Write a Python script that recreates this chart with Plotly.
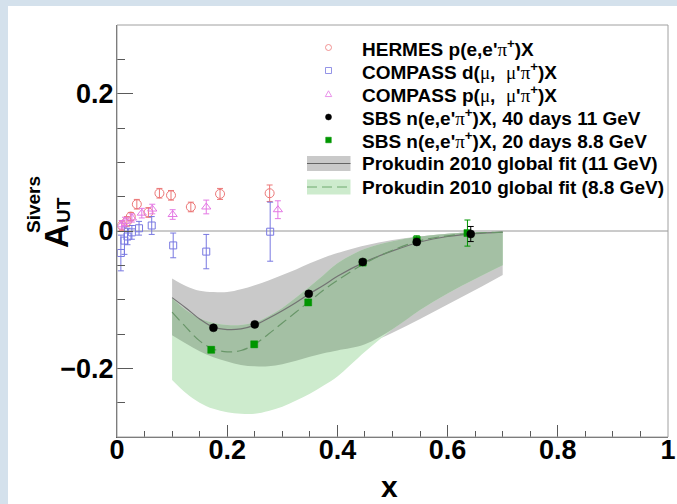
import numpy as np
import plotly.graph_objects as go

# ---------------- data ----------------
hermes_x = [0.009, 0.018, 0.025, 0.036, 0.057, 0.077, 0.098, 0.134, 0.187, 0.277]
hermes_y = [0.008, 0.014, 0.021, 0.039, 0.027, 0.055, 0.052, 0.035, 0.054, 0.055]
hermes_e = [0.007, 0.007, 0.006, 0.007, 0.007, 0.007, 0.007, 0.007, 0.008, 0.012]

compd_x = [0.007, 0.0135, 0.019, 0.027, 0.040, 0.063, 0.102, 0.162, 0.278]
compd_y = [-0.032, -0.014, -0.008, -0.002, 0.004, 0.008, -0.021, -0.030, -0.001]
compd_e = [0.026, 0.020, 0.012, 0.010, 0.010, 0.013, 0.018, 0.025, 0.043]

compp_x = [0.0085, 0.0145, 0.027, 0.045, 0.064, 0.101, 0.162, 0.292]
compp_y = [0.009, 0.014, 0.019, 0.026, 0.032, 0.024, 0.035, 0.031]
compp_e = [0.006, 0.006, 0.006, 0.007, 0.007, 0.007, 0.010, 0.013]

sbs11_x = [0.175, 0.250, 0.348, 0.446, 0.544, 0.642]
sbs11_y = [-0.141, -0.136, -0.0915, -0.045, -0.016, -0.0044]
sbs11_e = [0.003, 0.003, 0.003, 0.003, 0.004, 0.011]

sbs88_x = [0.171, 0.249, 0.347, 0.446, 0.544, 0.636]
sbs88_y = [-0.173, -0.165, -0.104, -0.046, -0.013, -0.003]
sbs88_e = [0.004, 0.004, 0.004, 0.004, 0.006, 0.019]

fit_x = [0.10, 0.125, 0.15, 0.175, 0.20, 0.225, 0.25, 0.275, 0.30, 0.325, 0.35,
         0.375, 0.40, 0.45, 0.50, 0.55, 0.60, 0.65, 0.70]
fit11_c = [-0.097, -0.112, -0.128, -0.140, -0.1435, -0.1425, -0.137, -0.127, -0.116, -0.104, -0.091,
           -0.079, -0.066, -0.045, -0.029, -0.016, -0.008, -0.0038, -0.0015]
fit11_up = [-0.069, -0.080, -0.087, -0.089, -0.089, -0.085, -0.079, -0.072, -0.064, -0.056, -0.047,
            -0.039, -0.032, -0.021, -0.013, -0.008, -0.004, -0.002, -0.001]
fit11_lo = [-0.152, -0.164, -0.175, -0.184, -0.190, -0.195, -0.197, -0.197, -0.194, -0.189, -0.183,
            -0.178, -0.174, -0.165, -0.148, -0.128, -0.107, -0.086, -0.064]
fit88_c = [-0.118, -0.140, -0.160, -0.172, -0.176, -0.174, -0.165, -0.150, -0.134, -0.118, -0.102,
           -0.086, -0.072, -0.047, -0.028, -0.014, -0.007, -0.003, -0.0015]
fit88_up = [-0.098, -0.115, -0.127, -0.134, -0.137, -0.137, -0.133, -0.124, -0.112, -0.097, -0.081,
            -0.064, -0.047, -0.026, -0.015, -0.008, -0.004, -0.002, -0.001]
fit88_lo = [-0.217, -0.236, -0.250, -0.259, -0.264, -0.266, -0.266, -0.262, -0.256, -0.247, -0.237,
            -0.225, -0.212, -0.176, -0.143, -0.115, -0.091, -0.070, -0.050]

x_ticks = [0, 0.2, 0.4, 0.6, 0.8, 1]
y_ticks = [-0.2, 0, 0.2]

SYM = "<span style=\"font-family:'Liberation Serif';font-weight:normal\">{}</span>"
PI, MU = SYM.format("π"), SYM.format("μ")
legend_labels = [
    f"HERMES p(e,e'{PI}<sup>+</sup>)X",
    f"COMPASS d({MU},\u00a0 {MU}'{PI}<sup>+</sup>)X",
    f"COMPASS p({MU},\u00a0 {MU}'{PI}<sup>+</sup>)X",
    f"SBS n(e,e'{PI}<sup>+</sup>)X, 40 days 11 GeV",
    f"SBS n(e,e'{PI}<sup>+</sup>)X, 20 days 8.8 GeV",
    "Prokudin 2010 global fit (11 GeV)",
    "Prokudin 2010 global fit (8.8 GeV)",
]

# ---------------- layout geometry ----------------
W, H = 677, 504
L, R, T, B = 117, 9, 25, 67
PW, PH = W - L - R, H - T - B


def px(xp):
    return (xp - L) / PW


def py(yp):
    return (H - B - yp) / PH


C_HER = "rgb(236,120,120)"
C_CD = "rgb(120,120,225)"
C_CP = "rgb(228,120,228)"
C_GRAYBAND = "rgb(201,201,201)"
C_GREENBAND = "rgb(205,235,205)"
C_OVER = "rgb(164,192,164)"
C_LINE11 = "rgb(115,115,115)"
C_LINE88 = "rgb(105,150,105)"
C_SBS88 = "rgb(0,150,0)"

fig = go.Figure()

# bands
fx = np.array(fit_x)
g_up, g_lo = np.array(fit11_up), np.array(fit11_lo)
n_up, n_lo = np.array(fit88_up), np.array(fit88_lo)
o_up, o_lo = np.minimum(g_up, n_up), np.maximum(g_lo, n_lo)

for up, lo, col in [(g_up, g_lo, C_GRAYBAND), (n_up, n_lo, C_GREENBAND), (o_up, o_lo, C_OVER)]:
    fig.add_trace(go.Scatter(x=fx, y=up, mode="lines", line=dict(width=0, shape="spline"),
                             hoverinfo="skip", showlegend=False))
    fig.add_trace(go.Scatter(x=fx, y=lo, mode="lines", line=dict(width=0, shape="spline"),
                             fill="tonexty", fillcolor=col, hoverinfo="skip", showlegend=False))

fig.add_trace(go.Scatter(x=fit_x, y=fit11_c, mode="lines",
                         line=dict(color=C_LINE11, width=1.2, shape="spline"), showlegend=False))
fig.add_trace(go.Scatter(x=fit_x, y=fit88_c, mode="lines",
                         line=dict(color=C_LINE88, width=1.2, shape="spline", dash="11px,5px"),
                         showlegend=False))


def pts(x, y, e, sym, col, size, lw=1.0, cap=3):
    return go.Scatter(x=x, y=y, mode="markers",
                      marker=dict(symbol=sym, color=col, size=size, line=dict(color=col, width=lw)),
                      error_y=dict(type="data", array=e, color=col, thickness=1, width=cap),
                      showlegend=False)


fig.add_trace(pts(hermes_x, hermes_y, hermes_e, "circle-open", C_HER, 9))
fig.add_trace(pts(compd_x, compd_y, compd_e, "square-open", C_CD, 7))
fig.add_trace(pts(compp_x, compp_y, compp_e, "triangle-up-open", C_CP, 8))
fig.add_trace(pts(sbs88_x, sbs88_y, sbs88_e, "square", C_SBS88, 7, 0.5))
fig.add_trace(pts(sbs11_x, sbs11_y, sbs11_e, "circle", "black", 8, 0.5))

shapes = []
# slide background strips
BG = "rgb(212,225,236)"
shapes.append(dict(type="rect", xref="paper", yref="paper", x0=px(0), x1=px(8), y0=py(H), y1=py(0),
                   fillcolor=BG, line=dict(width=0), layer="below"))
shapes.append(dict(type="rect", xref="paper", yref="paper", x0=px(0), x1=px(W), y0=py(6), y1=py(0),
                   fillcolor=BG, line=dict(width=0), layer="below"))
# zero line
shapes.append(dict(type="line", xref="x", yref="y", x0=0, x1=1, y0=0, y1=0,
                   line=dict(color="rgb(150,150,150)", width=1), layer="below"))
# frame
shapes.append(dict(type="rect", xref="paper", yref="paper", x0=0, x1=1, y0=0, y1=1,
                   line=dict(color="rgb(160,160,160)", width=1), layer="above"))

# legend
rows = [47.5, 70.5, 94, 117, 140, 163.5, 187]
mx = 328.5
annotations = []


def pshape(kind, cx, cy, r, fill, line, lw=1.0):
    base = dict(xref="paper", yref="paper", xsizemode="pixel", ysizemode="pixel",
                xanchor=px(cx), yanchor=py(cy), fillcolor=fill, line=dict(color=line, width=lw))
    if kind == "circle":
        base.update(type="circle", x0=-r, x1=r, y0=-r, y1=r)
    elif kind == "square":
        base.update(type="path", path=f"M{-r},{-r} L{r},{-r} L{r},{r} L{-r},{r} Z")
    elif kind == "triangle":
        base.update(type="path", path=f"M{-r},{-r*0.8} L{r},{-r*0.8} L0,{r*1.0} Z")
    return base


shapes.append(pshape("circle", mx, rows[0], 3, "rgba(255,255,255,0)", C_HER, 0.8))
shapes.append(pshape("square", mx, rows[1], 3, "rgba(255,255,255,0)", C_CD, 0.8))
shapes.append(pshape("triangle", mx, rows[2], 3.2, "rgba(255,255,255,0)", C_CP, 0.8))
shapes.append(pshape("circle", mx, rows[3], 3, "black", "black", 0.5))
shapes.append(pshape("square", mx, rows[4], 2.8, C_SBS88, C_SBS88, 0.5))
for r_i, fillc, linec, dash in [(5, C_GRAYBAND, "rgb(100,100,100)", "solid"),
                                 (6, C_GREENBAND, "rgb(110,170,110)", "10px,5px")]:
    cy = rows[r_i]
    shapes.append(dict(type="rect", xref="paper", yref="paper", x0=px(307), x1=px(350.5),
                       y0=py(cy + 7.5), y1=py(cy - 7.5), fillcolor=fillc, line=dict(width=0)))
    shapes.append(dict(type="line", xref="paper", yref="paper", x0=px(307), x1=px(350.5),
                       y0=py(cy), y1=py(cy), line=dict(color=linec, width=1, dash=dash)))

for lab, cy in zip(legend_labels, rows):
    annotations.append(dict(text=lab, xref="paper", yref="paper", x=px(360), y=py(cy),
                            xanchor="left", yanchor="middle", showarrow=False,
                            font=dict(family="Liberation Sans", size=19, color="black", weight="bold")))

# axis titles
annotations.append(dict(text="x", xref="paper", yref="paper", x=px(389), y=py(486),
                        xanchor="center", yanchor="middle", showarrow=False,
                        font=dict(family="Liberation Sans", size=30, color="black", weight="bold")))
annotations.append(dict(text="A", xref="paper", yref="paper", x=px(56), y=py(236),
                        xanchor="center", yanchor="middle", showarrow=False, textangle=-90,
                        font=dict(family="Liberation Sans", size=33, color="black", weight="bold")))
annotations.append(dict(text="Sivers", xref="paper", yref="paper", x=px(33), y=py(205),
                        xanchor="center", yanchor="middle", showarrow=False, textangle=-90,
                        font=dict(family="Liberation Sans", size=19, color="black", weight="bold")))
annotations.append(dict(text="UT", xref="paper", yref="paper", x=px(63), y=py(210),
                        xanchor="center", yanchor="middle", showarrow=False, textangle=-90,
                        font=dict(family="Liberation Sans", size=19, color="black", weight="bold")))

tickfont = dict(family="Liberation Sans", size=27, color="black", weight="bold")
axcol = "rgb(90,90,90)"
fig.update_layout(
    width=W, height=H, margin=dict(l=L, r=R, t=T, b=B, autoexpand=False),
    paper_bgcolor="white", plot_bgcolor="white", showlegend=False,
    shapes=shapes, annotations=annotations,
    xaxis=dict(range=[0, 1], tickvals=x_ticks, ticktext=[f"{v:g}" for v in x_ticks], automargin=False,
               showgrid=False, zeroline=False, showline=True, linecolor=axcol, linewidth=1,
               ticks="inside", ticklen=12, tickwidth=1, tickcolor=axcol, tickfont=tickfont,
               ticklabelstandoff=-11,
               minor=dict(dtick=0.05, tick0=0, ticks="inside", ticklen=6, tickcolor=axcol, showgrid=False)),
    yaxis=dict(range=[-0.3, 0.3], tickvals=y_ticks, ticktext=["\u22120.2", "0", "0.2"], automargin=False,
               showgrid=False, zeroline=False, showline=True, linecolor=axcol, linewidth=1,
               ticks="inside", ticklen=16, tickwidth=1, tickcolor=axcol, tickfont=tickfont,
               ticklabelstandoff=-3,
               minor=dict(dtick=0.05, tick0=0, ticks="inside", ticklen=8, tickcolor=axcol, showgrid=False)),
)

fig.write_html("out.html")
